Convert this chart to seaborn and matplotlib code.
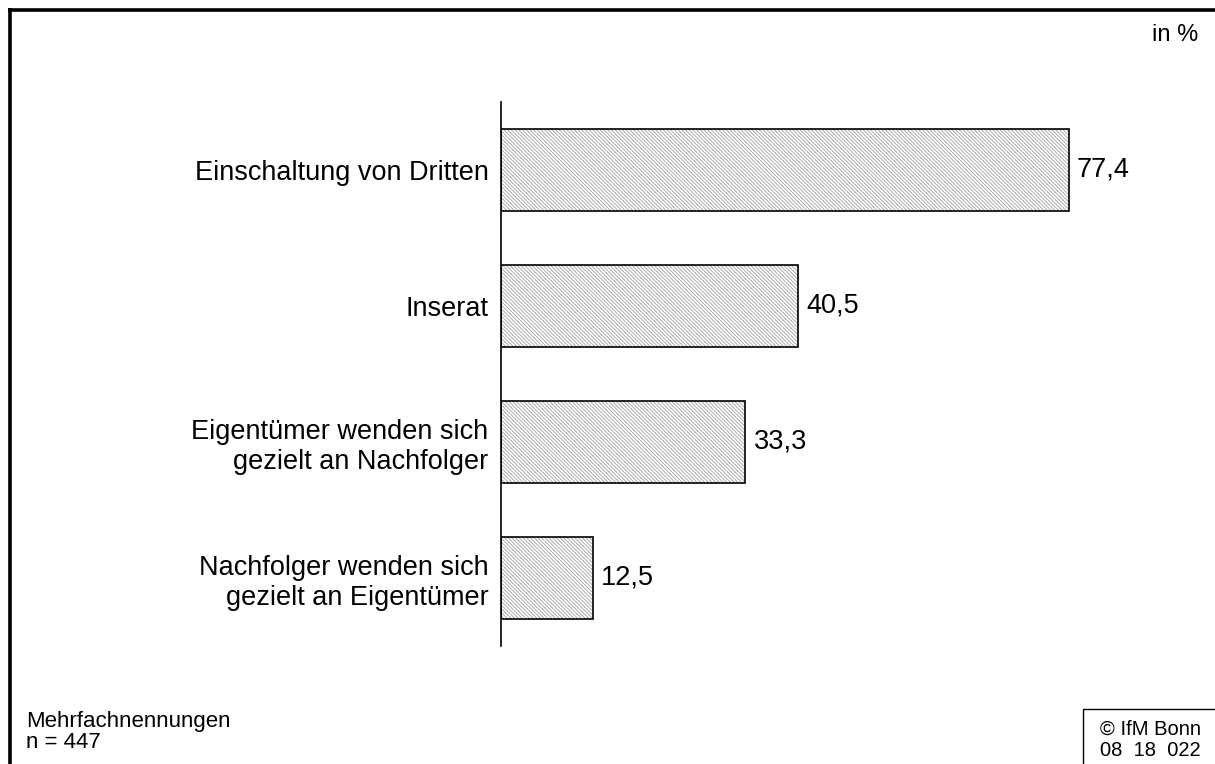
import matplotlib
matplotlib.use("Agg")
import matplotlib.pyplot as plt
import seaborn as sns
import pandas as pd
from matplotlib.lines import Line2D
from matplotlib.patches import Rectangle

# data
categories = ["Einschaltung von Dritten", "Inserat",
              "Eigentümer wenden sich\ngezielt an Nachfolger",
              "Nachfolger wenden sich\ngezielt an Eigentümer"]
values = [77.4, 40.5, 33.3, 12.5]
value_labels = ["77,4", "40,5", "33,3", "12,5"]

sns.set_style("white")
plt.rcParams["font.family"] = ["Liberation Sans", "DejaVu Sans"]
plt.rcParams["text.color"] = "black"
plt.rcParams["hatch.linewidth"] = 0.6

W, H = 1215, 764
fig = plt.figure(figsize=(W / 100, H / 100), dpi=100)

# axes placed in pixel coordinates
x0, y_top, y_bot = 501, 102, 646
xmax = 80
px_per_unit = (1069 - 501) / 77.4
ax = fig.add_axes([x0 / W, 1 - y_bot / H, xmax * px_per_unit / W, (y_bot - y_top) / H])

df = pd.DataFrame({"cat": categories, "val": values})
# hatched fill (hatch takes the edge colour, so keep it grey)
sns.barplot(data=df, x="val", y="cat", orient="h", color="white",
            edgecolor="#a0a0a0", linewidth=0, width=0.6, ax=ax)
for p in ax.patches:
    p.set_hatch("\\" * 9)
    p.set_facecolor("white")
# black outlines on top
sns.barplot(data=df, x="val", y="cat", orient="h", color="black", fill=False,
            linewidth=1.2, width=0.6, ax=ax)

for i, (v, lab) in enumerate(zip(values, value_labels)):
    ax.text(v + 1.1, i, lab, va="center", ha="left", fontsize=19.5, color="black")

ax.set_xlim(0, xmax)
ax.set_ylim(3.5, -0.5)
ax.set_xlabel("")
ax.set_ylabel("")
ax.set_xticks([])
for s in ["top", "right", "bottom"]:
    ax.spines[s].set_visible(False)
ax.spines["left"].set_linewidth(1.2)
ax.spines["left"].set_color("black")
ax.tick_params(axis="y", length=0, pad=9, labelsize=19.5, labelcolor="black")
for t in ax.get_yticklabels():
    t.set_multialignment("right")

# frame lines (left and top)
fig.add_artist(Line2D([8 / W, 1], [1 - 9.5 / H, 1 - 9.5 / H], color="black", lw=2.6,
                      solid_capstyle="butt"))
fig.add_artist(Line2D([9.5 / W, 9.5 / W], [0, 1 - 8 / H], color="black", lw=2.6,
                      solid_capstyle="butt"))

# copyright box
fig.add_artist(Rectangle((1083 / W, -0.05), 0.2, 1 - 709 / H + 0.05,
                         fill=False, edgecolor="black", lw=1.0))

fig.text(1198 / W, 1 - 35 / H, "in %", ha="right", va="center", fontsize=17)
fig.text(26 / W, 1 - 732 / H, "Mehrfachnennungen\nn = 447", ha="left", va="center",
         fontsize=16, linespacing=0.95)
fig.text(1150 / W, 1 - 740 / H, "© IfM Bonn\n08  18  022", ha="center", va="center",
         fontsize=14.5, linespacing=1.15)

fig.savefig("out.png", dpi=100)
